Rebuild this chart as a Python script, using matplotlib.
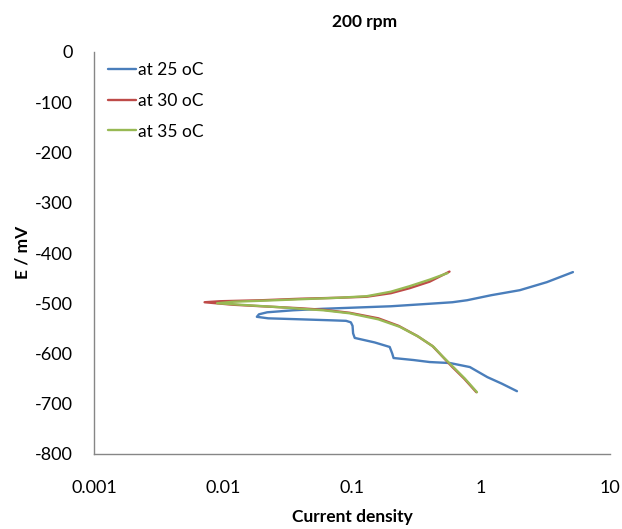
import matplotlib
matplotlib.use("Agg")
import matplotlib.pyplot as plt

# 25 oC
i25 = [1.9, 1.45, 1.12, 0.82, 0.575, 0.40, 0.30, 0.21, 0.205, 0.196, 0.15, 0.105, 0.102, 0.101, 0.098, 0.09, 0.07, 0.04, 0.0224, 0.0183, 0.019, 0.022, 0.035, 0.0596, 0.2, 0.4, 0.6, 0.78, 1.2, 2.0, 3.24, 5.16]
e25 = [-675, -660, -647, -627, -619, -617, -613, -609, -600, -587, -578, -569, -560, -545, -538, -535, -534, -532, -530, -527, -522, -518, -514, -511, -506, -501, -498, -494, -484, -474, -458, -438]
# 30 oC
i30 = [0.92, 0.74, 0.6, 0.49, 0.42, 0.32, 0.23, 0.16, 0.096, 0.06, 0.04, 0.02, 0.012, 0.0072, 0.0095, 0.02, 0.04, 0.08, 0.13, 0.2, 0.28, 0.4, 0.57]
e30 = [-677, -650, -627, -603, -585, -565, -545, -530, -519, -513, -510, -506, -503, -498, -496, -494, -491, -489, -487, -480, -470, -457, -437]
# 35 oC
i35 = [0.93, 0.75, 0.61, 0.5, 0.43, 0.33, 0.235, 0.16, 0.096, 0.06, 0.04, 0.028, 0.018, 0.012, 0.009, 0.012, 0.02, 0.04, 0.08, 0.13, 0.2, 0.28, 0.4, 0.55]
e35 = [-677, -650, -627, -605, -587, -567, -547, -532, -520, -514, -511, -508, -505, -502, -500, -497, -495, -492, -489, -486, -477, -466, -453, -440]

labels = ["at 25 oC", "at 30 oC", "at 35 oC"]
colors = ["#4A7EBB", "#BE4B48", "#98B954"]
xticks = [0.001, 0.01, 0.1, 1, 10]
xticklabels = ["0.001", "0.01", "0.1", "1", "10"]
yticks = list(range(-800, 1, 100))

plt.rcParams['font.family'] = ['Lato', 'DejaVu Sans']
fig = plt.figure(figsize=(6.22, 5.29), dpi=100)
ax = fig.add_axes([94/622, 1-454/529, (610-94)/622, (454-52)/529])

for x, y, lab, c in zip([i25, i30, i35], [e25, e30, e35], labels, colors):
    ax.plot(x, y, color=c, lw=1.7, label=lab, solid_capstyle='round', solid_joinstyle='round')

ax.set_xscale('log')
ax.set_xlim(0.001, 10)
ax.set_ylim(-800, 0)
ax.set_xticks(xticks)
ax.set_xticklabels(xticklabels)
ax.minorticks_off()
ax.set_yticks(yticks)
ax.set_yticklabels([str(v) for v in yticks])
ax.tick_params(axis='both', length=0, labelsize=13, colors='#000000')
ax.tick_params(axis='x', pad=19)
ax.tick_params(axis='y', pad=15)
for s in ['top', 'right']:
    ax.spines[s].set_visible(False)
for s in ['left', 'bottom']:
    ax.spines[s].set_color('#868686')
    ax.spines[s].set_linewidth(1.0)

leg = ax.legend(loc='upper left', bbox_to_anchor=((108-94)/516, (454-62)/402), frameon=False,
                borderpad=0, borderaxespad=0,
                fontsize=12.5, handlelength=1.6, handletextpad=0.15, labelspacing=0.85)

fig.text(365/622, 1-22/529, "200 rpm", ha='center', va='center', fontsize=12.5, fontweight='bold')
fig.text(352/622, 1-517/529, "Current density", ha='center', va='center', fontsize=12.5, fontweight='bold')
fig.text(22/622, 1-252/529, "E / mV", ha='center', va='center', rotation=90, fontsize=12.5, fontweight='bold')

fig.savefig("out.png", dpi=100)
